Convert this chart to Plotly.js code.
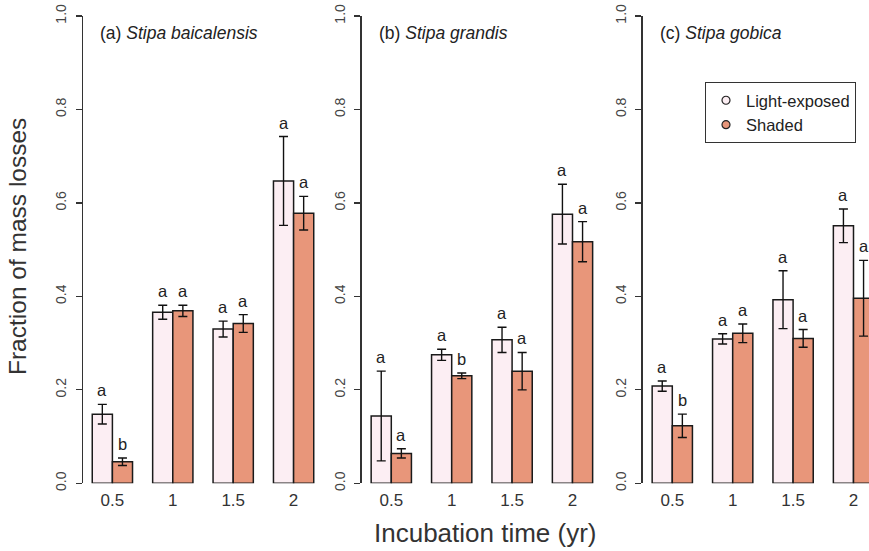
<!DOCTYPE html>
<html><head><meta charset="utf-8">
<script src="https://cdn.plot.ly/plotly-3.0.1.min.js"></script>
<style>html,body{margin:0;padding:0;overflow:hidden;background:#fff}</style>
</head><body><div id="chart" style="width:869px;height:551px"></div>
<script>
// ---- data ----
const times = ['0.5', '1', '1.5', '2'];
const panelTitles = ['(a) <i>Stipa baicalensis</i>', '(b) <i>Stipa grandis</i>', '(c) <i>Stipa gobica</i>'];
const seriesNames = ['Light-exposed', 'Shaded'];

const aLight = [0.148, 0.366, 0.330, 0.647];
const aLightErr = [0.021, 0.015, 0.017, 0.095];
const aShaded = [0.046, 0.369, 0.342, 0.578];
const aShadedErr = [0.008, 0.012, 0.019, 0.036];
const aLightLetters = ['a', 'a', 'a', 'a'];
const aShadedLetters = ['b', 'a', 'a', 'a'];

const bLight = [0.144, 0.275, 0.307, 0.576];
const bLightErr = [0.096, 0.012, 0.027, 0.064];
const bShaded = [0.064, 0.230, 0.240, 0.517];
const bShadedErr = [0.010, 0.006, 0.040, 0.043];
const bLightLetters = ['a', 'a', 'a', 'a'];
const bShadedLetters = ['a', 'b', 'a', 'a'];

const cLight = [0.208, 0.309, 0.393, 0.551];
const cLightErr = [0.011, 0.011, 0.062, 0.036];
const cShaded = [0.123, 0.321, 0.310, 0.396];
const cShadedErr = [0.025, 0.020, 0.019, 0.081];
const cLightLetters = ['a', 'a', 'a', 'a'];
const cShadedLetters = ['b', 'a', 'a', 'a'];

const yTickVals = [0, 0.2, 0.4, 0.6, 0.8, 1.0];
const yTickText = ['0.0', '0.2', '0.4', '0.6', '0.8', '1.0'];

// ---- style / layout constants ----
const W = 869, H = 551;
const lightColor = '#FCEEF3';
const shadedColor = '#E8967A';
const edgeColor = '#1a1a1a';
const textColor = '#333';
const FONT = 'Liberation Sans, Arial, sans-serif';
const bargap = 1 / 3;
const axisLeftPx = [82.8, 361.7, 642.7];
const catPx = 60.4;
const rangeStart = -0.49;
const fullSpan = 3.96;
const yBottomPx = 483.3, yTopPx = 16;

const panels = [
  {light: aLight, lightErr: aLightErr, shaded: aShaded, shadedErr: aShadedErr, lL: aLightLetters, sL: aShadedLetters},
  {light: bLight, lightErr: bLightErr, shaded: bShaded, shadedErr: bShadedErr, lL: bLightLetters, sL: bShadedLetters},
  {light: cLight, lightErr: cLightErr, shaded: cShaded, shadedErr: cShadedErr, lL: cLightLetters, sL: cShadedLetters}
];

const traces = [];
const annotations = [];
const layout = {
  width: W, height: H,
  margin: {l: 0, r: 0, t: 0, b: 0},
  paper_bgcolor: '#fff', plot_bgcolor: 'rgba(0,0,0,0)',
  barmode: 'group', bargap: bargap, bargroupgap: 0,
  font: {family: FONT, color: textColor},
  showlegend: true,
  legend: {
    x: 705 / W, y: (H - 82) / H, xanchor: 'left', yanchor: 'top',
    bgcolor: '#fff', bordercolor: '#333', borderwidth: 1,
    font: {family: FONT, size: 16.5, color: '#222'},
    itemwidth: 30, tracegroupgap: 0
  }
};

const yDomain = [(H - yBottomPx) / H, (H - yTopPx) / H];
const off = (1 - bargap) / 4;

panels.forEach((p, i) => {
  const sfx = i === 0 ? '' : String(i + 1);
  const xa = 'x' + sfx, ya = 'y' + sfx;
  const L = axisLeftPx[i];
  let span, domEnd;
  if (L + fullSpan * catPx <= W) { span = fullSpan; domEnd = (L + fullSpan * catPx) / W; }
  else { span = (W - L) / catPx; domEnd = 1; }
  layout['xaxis' + sfx] = {
    domain: [L / W, domEnd], range: [rangeStart, rangeStart + span],
    type: 'category', anchor: ya, showline: false, showgrid: false, zeroline: false,
    ticks: '', tickfont: {size: 17, color: textColor, family: FONT}, fixedrange: true,
    ticklabelstandoff: 5
  };
  layout['yaxis' + sfx] = {
    domain: yDomain, range: [0, 1], anchor: xa,
    showline: true, linecolor: '#333', linewidth: 1.3,
    ticks: 'outside', ticklen: 6, tickwidth: 1.3, tickcolor: '#333',
    tickvals: yTickVals, ticktext: yTickText, tickangle: -90,
    tickfont: {size: 14, color: '#444', family: FONT},
    ticklabelstandoff: 4,
    showgrid: false, zeroline: false, fixedrange: true
  };
  traces.push({
    type: 'bar', x: times, y: p.light, xaxis: xa, yaxis: ya, name: seriesNames[0], showlegend: false,
    marker: {color: lightColor, line: {color: edgeColor, width: 1.5}},
    error_y: {type: 'data', array: p.lightErr, visible: true, color: '#111', thickness: 1.4, width: 4.5}
  });
  traces.push({
    type: 'bar', x: times, y: p.shaded, xaxis: xa, yaxis: ya, name: seriesNames[1], showlegend: false,
    marker: {color: shadedColor, line: {color: edgeColor, width: 1.5}},
    error_y: {type: 'data', array: p.shadedErr, visible: true, color: '#111', thickness: 1.4, width: 4.5}
  });
  times.forEach((t, k) => {
    annotations.push({
      xref: xa, yref: ya, x: k - off, y: p.light[k] + p.lightErr[k], text: p.lL[k],
      showarrow: false, yanchor: 'middle', yshift: 14, font: {size: 16.5, color: '#222', family: FONT}
    });
    annotations.push({
      xref: xa, yref: ya, x: k + off, y: p.shaded[k] + p.shadedErr[k], text: p.sL[k],
      showarrow: false, yanchor: 'middle', yshift: 14, font: {size: 16.5, color: '#222', family: FONT}
    });
  });
  annotations.push({
    xref: xa + ' domain', yref: ya, x: 0, y: 0.964, xshift: 15, xanchor: 'left', yanchor: 'middle',
    text: panelTitles[i], showarrow: false, font: {size: 17.5, color: '#222', family: FONT}
  });
});

// legend entries (circle symbols)
traces.push({
  type: 'scatter', mode: 'markers', x: [null], y: [null], xaxis: 'x3', yaxis: 'y3', name: seriesNames[0],
  marker: {symbol: 'circle', size: 8, color: lightColor, line: {color: '#222', width: 1.2}}
});
traces.push({
  type: 'scatter', mode: 'markers', x: [null], y: [null], xaxis: 'x3', yaxis: 'y3', name: seriesNames[1],
  marker: {symbol: 'circle', size: 8, color: shadedColor, line: {color: '#222', width: 1.2}}
});

// axis titles
annotations.push({
  xref: 'paper', yref: 'paper', x: 17 / W, y: (H - 247) / H, textangle: -90,
  text: 'Fraction of mass losses', showarrow: false, xanchor: 'center', yanchor: 'middle',
  font: {size: 24.5, color: textColor, family: FONT}
});
annotations.push({
  xref: 'paper', yref: 'paper', x: 485 / W, y: (H - 533) / H,
  text: 'Incubation time (yr)', showarrow: false, xanchor: 'center', yanchor: 'middle',
  font: {size: 26, color: textColor, family: FONT}
});

layout.annotations = annotations;
Plotly.newPlot('chart', traces, layout, {displayModeBar: false, staticPlot: true});
</script>
</body></html>
